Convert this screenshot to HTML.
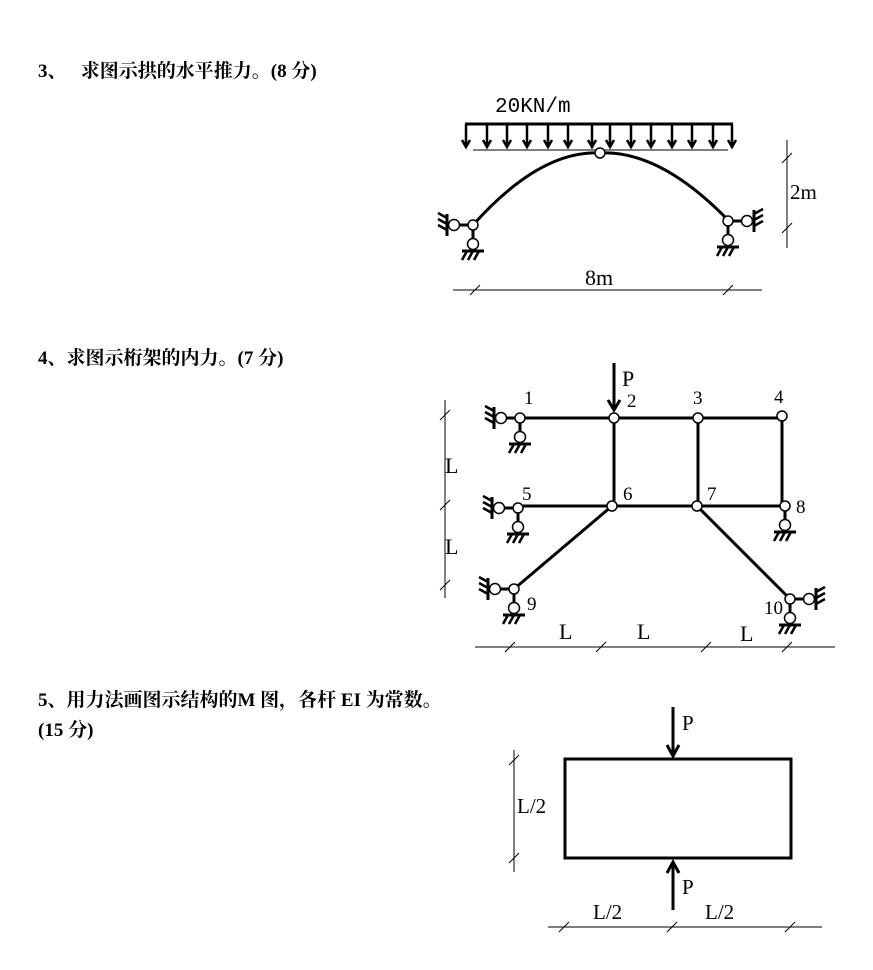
<!DOCTYPE html>
<html><head><meta charset="utf-8"><style>
body{margin:0;background:#fff;width:873px;height:970px;overflow:hidden;position:relative}
.t{position:absolute;font-family:"Liberation Serif","Noto Serif CJK SC",serif;font-weight:bold;font-size:19px;color:#000;white-space:nowrap}
svg{position:absolute;left:0;top:0}
</style></head><body>
<div class="t" style="left:38px;top:56px">3、&nbsp;&nbsp; 求图示拱的水平推力。(8 分)</div>
<div class="t" style="left:38px;top:343px">4、求图示桁架的内力。(7 分)</div>
<div class="t" style="left:38px;top:685px">5、用力法画图示结构的M 图，各杆 EI 为常数。</div>
<div class="t" style="left:38px;top:715px">(15 分)</div>
<svg width="873" height="970" viewBox="0 0 873 970" font-family="Liberation Sans, sans-serif">
<defs>
<g id="vs" stroke="#000" fill="none">
<line x1="0" y1="0" x2="0" y2="14" stroke-width="3"/>
<circle cx="0" cy="19" r="5.5" fill="#fff" stroke-width="1.5"/>
<line x1="-11" y1="26" x2="11" y2="26" stroke-width="3"/>
<line x1="-6" y1="26" x2="-11" y2="35" stroke-width="2.5"/>
<line x1="0" y1="26" x2="-5" y2="35" stroke-width="2.5"/>
<line x1="6" y1="26" x2="1" y2="35" stroke-width="2.5"/>
</g>
<g id="hs" stroke="#000" fill="none">
<line x1="0" y1="0" x2="-14" y2="0" stroke-width="3"/>
<circle cx="-19" cy="0" r="5.5" fill="#fff" stroke-width="1.5"/>
<line x1="-26" y1="-11" x2="-26" y2="11" stroke-width="3"/>
<line x1="-26" y1="-7" x2="-35" y2="-12" stroke-width="2.5"/>
<line x1="-26" y1="-1" x2="-35" y2="-6" stroke-width="2.5"/>
<line x1="-26" y1="5" x2="-35" y2="0" stroke-width="2.5"/>
</g>
<g id="tk" stroke="#000" stroke-width="1"><line x1="-5" y1="5" x2="5" y2="-5"/></g>
</defs>

<!-- Arch -->
<g stroke="#000" fill="none">
<line x1="465" y1="124" x2="733" y2="124" stroke-width="3"/>
<line x1="473" y1="150" x2="728" y2="150" stroke-width="1"/>
<path d="M473,225 Q540,150 600,153 Q660,150 728,220" stroke-width="3"/>
<circle cx="600" cy="153" r="5" fill="#fff" stroke-width="1.5"/>
</g>
<g stroke="#000" stroke-width="2.5" fill="none">
<path d="M466,124v22M462,140l4,7 4,-7M487,124v22M483,140l4,7 4,-7M507,124v22M503,140l4,7 4,-7M527,124v22M523,140l4,7 4,-7M548,124v22M544,140l4,7 4,-7M568,124v22M564,140l4,7 4,-7M592,124v22M588,140l4,7 4,-7M610,124v22M606,140l4,7 4,-7M631,124v22M627,140l4,7 4,-7M651,124v22M647,140l4,7 4,-7M672,124v22M668,140l4,7 4,-7M692,124v22M688,140l4,7 4,-7M713,124v22M709,140l4,7 4,-7M732,124v22M728,140l4,7 4,-7"/>
</g>
<use href="#hs" x="473" y="225"/>
<use href="#vs" x="473" y="225"/>
<circle cx="473" cy="225" r="5" fill="#fff" stroke="#000" stroke-width="1.5"/>
<g transform="translate(728,221) scale(-1,1)"><use href="#hs"/></g>
<use href="#vs" x="728" y="221"/>
<circle cx="728" cy="221" r="5" fill="#fff" stroke="#000" stroke-width="1.5"/>
<text x="495" y="112" font-size="21" font-family="Liberation Mono, monospace">20KN/m</text>
<g stroke="#000" stroke-width="1"><line x1="787" y1="140" x2="787" y2="248"/><line x1="453" y1="290" x2="762" y2="290"/></g>
<use href="#tk" x="787" y="158"/><use href="#tk" x="787" y="228"/><use href="#tk" x="475" y="290"/><use href="#tk" x="728" y="290"/>
<text x="790" y="199" font-size="21" font-family="Liberation Serif, serif">2m</text>
<text x="585" y="285" font-size="22" font-family="Liberation Serif, serif">8m</text>

<!-- Truss -->
<g stroke="#000" stroke-width="3" fill="none">
<path d="M520,418H782V506H518M614,418V506M698,418V506M612,506L514,589M697,506L790,599"/>
<line x1="614" y1="363" x2="614" y2="410"/>
<path d="M608,400l6,10 6,-10"/>
</g>
<use href="#hs" x="520" y="418"/><use href="#vs" x="520" y="418"/>
<use href="#hs" x="518" y="508"/><use href="#vs" x="518" y="508"/>
<use href="#hs" x="514" y="589"/><use href="#vs" x="514" y="589"/>
<use href="#vs" x="785" y="506"/>
<g transform="translate(790,599) scale(-1,1)"><use href="#hs"/></g><use href="#vs" x="790" y="599"/>
<g fill="#fff" stroke="#000" stroke-width="1.5">
<circle cx="520" cy="418" r="5"/><circle cx="614" cy="418" r="5"/><circle cx="698" cy="418" r="5"/><circle cx="782" cy="416" r="5"/>
<circle cx="518" cy="508" r="5"/><circle cx="612" cy="506" r="5"/><circle cx="697" cy="506" r="5"/><circle cx="785" cy="506" r="5"/>
<circle cx="514" cy="589" r="5"/><circle cx="790" cy="599" r="5"/>
</g>
<g font-size="19" font-family="Liberation Serif, serif">
<text x="524" y="404">1</text><text x="627" y="407">2</text><text x="693" y="404">3</text><text x="774" y="403">4</text>
<text x="522" y="500">5</text><text x="623" y="500">6</text><text x="707" y="500">7</text><text x="796" y="513">8</text>
<text x="527" y="610">9</text><text x="764" y="614">10</text>
<text x="622" y="386" font-size="22">P</text>
<text x="445" y="473" font-size="22">L</text><text x="445" y="554" font-size="22">L</text>
<text x="559" y="639" font-size="22">L</text><text x="637" y="639" font-size="22">L</text><text x="740" y="641" font-size="22">L</text>
</g>
<g stroke="#000" stroke-width="1"><line x1="445" y1="400" x2="445" y2="598"/><line x1="475" y1="647" x2="835" y2="647"/></g>
<use href="#tk" x="445" y="415"/><use href="#tk" x="445" y="505"/><use href="#tk" x="445" y="585"/>
<use href="#tk" x="510" y="647"/><use href="#tk" x="601" y="647"/><use href="#tk" x="706" y="647"/><use href="#tk" x="787" y="647"/>

<!-- Frame -->
<rect x="565" y="759" width="226" height="99" fill="none" stroke="#000" stroke-width="3"/>
<g stroke="#000" stroke-width="3" fill="none">
<line x1="673" y1="707" x2="673" y2="756"/><path d="M667,745l6,11 6,-11"/>
<line x1="673" y1="910" x2="673" y2="862"/><path d="M667,873l6,-11 6,11"/>
</g>
<g stroke="#000" stroke-width="1"><line x1="514" y1="750" x2="514" y2="872"/><line x1="548" y1="927" x2="822" y2="927"/></g>
<use href="#tk" x="514" y="760"/><use href="#tk" x="514" y="858"/>
<use href="#tk" x="564" y="927"/><use href="#tk" x="672" y="927"/><use href="#tk" x="790" y="927"/>
<g font-size="21" font-family="Liberation Serif, serif">
<text x="682" y="730">P</text><text x="682" y="894">P</text>
<text x="517" y="813">L/2</text><text x="593" y="919">L/2</text><text x="705" y="919">L/2</text>
</g>
</svg>
</body></html>
